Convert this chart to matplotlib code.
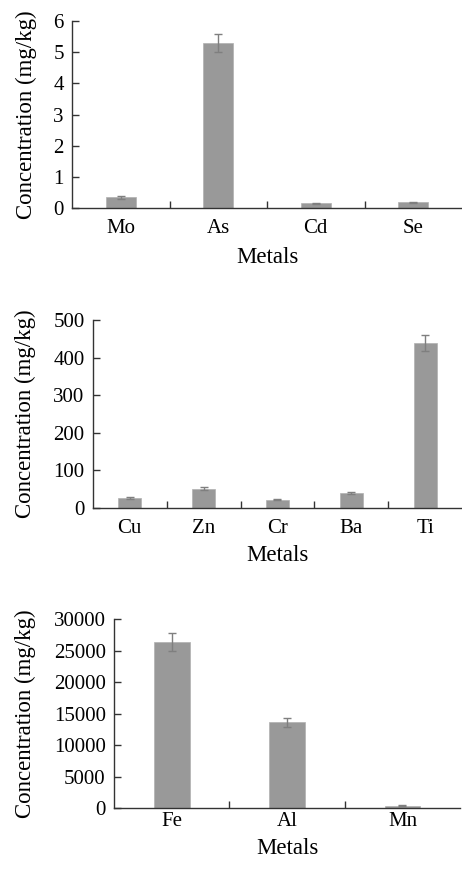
import numpy as np
import matplotlib
matplotlib.use("Agg")
import matplotlib.pyplot as plt

plt.rcParams['font.family'] = ['Liberation Serif', 'DejaVu Serif']

# panel 1: trace metals
metals1 = ["Mo", "As", "Cd", "Se"]
conc1 = [0.35, 5.30, 0.15, 0.19]
err1 = [0.04, 0.28, 0.02, 0.02]

# panel 2
metals2 = ["Cu", "Zn", "Cr", "Ba", "Ti"]
conc2 = [27, 51, 22, 40, 438]
err2 = [3, 4, 2, 3, 21]

# panel 3: major metals
metals3 = ["Fe", "Al", "Mn"]
conc3 = [26400, 13600, 400]
err3 = [1400, 700, 100]

# (names, values, errors, ymax, step, axes rect, ylabel x, xlabel y, tick pad)
panels = [
    (metals1, conc1, err1, 6, 1, [0.156, 0.761, 0.844, 0.2147], -0.09, -0.205, 8),
    (metals2, conc2, err2, 500, 100, [0.201, 0.4168, 0.799, 0.2158], -0.154, -0.195, 8),
    (metals3, conc3, err3, 30000, 5000, [0.247, 0.0723, 0.749, 0.217], -0.225, -0.16, 3),
]

fig = plt.figure(figsize=(4.62, 8.71), dpi=100)

for names, vals, errs, ymax, step, rect, ylab_x, xlab_y, pad in panels:
    ax = fig.add_axes(rect)
    n = len(names)
    x = np.arange(n)
    ax.bar(x, vals, width=0.31, color="#999999", edgecolor="#b0b0b0", linewidth=0.5,
           yerr=errs, ecolor="#7f7f7f", capsize=3, error_kw=dict(elinewidth=1.0, capthick=1.0))
    ax.set_xlim(-0.5, n - 0.5)
    ax.set_ylim(0, ymax)
    ax.set_yticks(np.arange(0, ymax + step, step))
    ax.set_xticks(x)
    ax.set_xticklabels(names)
    ax.set_xticks(np.arange(0.5, n - 0.5, 1), minor=True)
    ax.tick_params(axis="x", which="major", length=0, pad=pad, labelsize=15)
    ax.tick_params(axis="x", which="minor", direction="in", length=5, width=1, color="#333333")
    ax.tick_params(axis="y", direction="in", length=5, width=1, pad=6, labelsize=15, color="#333333")
    for s in ["top", "right"]:
        ax.spines[s].set_visible(False)
    for s in ["left", "bottom"]:
        ax.spines[s].set_color("#333333")
        ax.spines[s].set_linewidth(1.0)
    ax.set_xlabel("Metals", fontsize=16.5)
    ax.xaxis.set_label_coords(0.5, xlab_y)
    ax.set_ylabel("Concentration (mg/kg)", fontsize=16.5)
    ax.yaxis.set_label_coords(ylab_x, 0.5)

fig.savefig("out.png", dpi=100)
